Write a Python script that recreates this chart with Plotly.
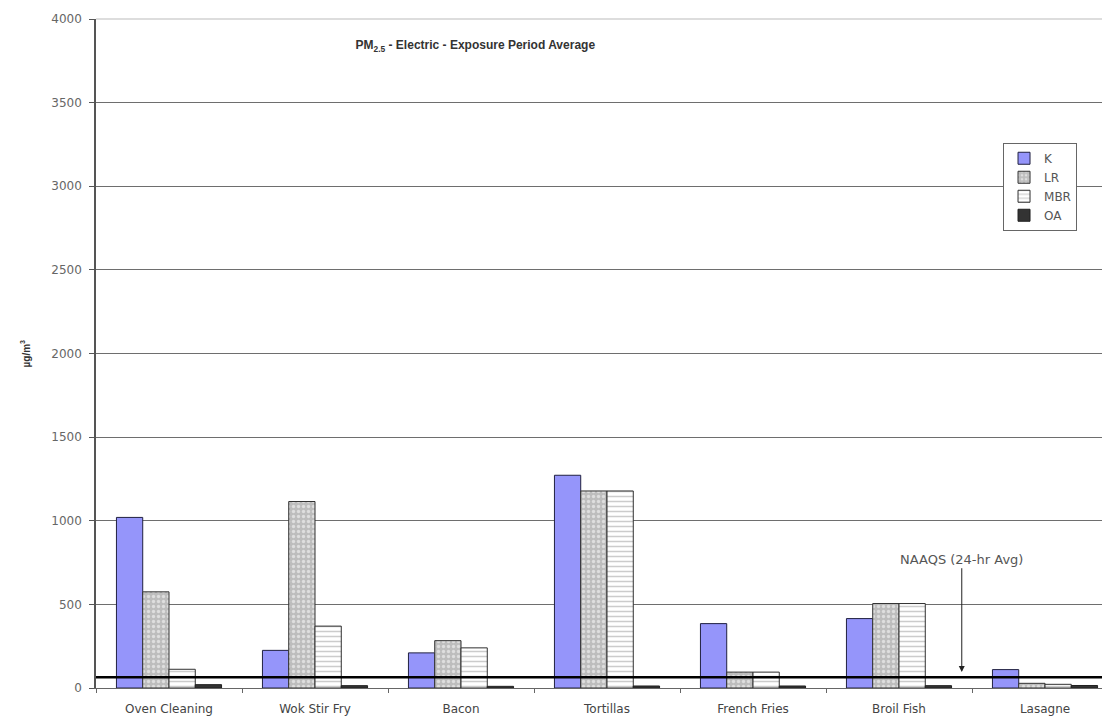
import plotly.graph_objects as go

# PM2.5 exposure period averages (ug/m3)
categories = ["Oven Cleaning", "Wok Stir Fry", "Bacon", "Tortillas",
              "French Fries", "Broil Fish", "Lasagne"]
k_values = [1020, 225, 210, 1272, 385, 415, 110]
lr_values = [575, 1115, 283, 1178, 95, 505, 28]
mbr_values = [112, 370, 240, 1178, 95, 505, 22]
oa_values = [20, 14, 10, 12, 12, 14, 15]
naaqs_value = 65
y_ticks = [0, 500, 1000, 1500, 2000, 2500, 3000, 3500, 4000]

FONT = "Arial, Liberation Sans, sans-serif"
WIDE = "DejaVu Sans, Verdana, sans-serif"

fig = go.Figure()

fig.add_trace(go.Bar(
    name="K", x=categories, y=k_values,
    marker=dict(color="#9595FA", line=dict(color="#202040", width=1))
))
fig.add_trace(go.Bar(
    name="LR", x=categories, y=lr_values,
    marker=dict(color="#C0C0C0", line=dict(color="#303030", width=1),
                pattern=dict(shape=".", fgcolor="white", bgcolor="#BDBDBD",
                             size=5, solidity=0.35))
))
fig.add_trace(go.Bar(
    name="MBR", x=categories, y=mbr_values,
    marker=dict(color="white", line=dict(color="#303030", width=1),
                pattern=dict(shape="-", fgcolor="#9A9A9A", bgcolor="white",
                             size=5, solidity=0.3))
))
fig.add_trace(go.Bar(
    name="OA", x=categories, y=oa_values,
    marker=dict(color="#333333", line=dict(color="#202020", width=1))
))

# NAAQS reference line
fig.add_shape(type="line", xref="paper", yref="y", x0=0, x1=1,
              y0=naaqs_value, y1=naaqs_value,
              line=dict(color="black", width=2.5))

fig.add_annotation(
    x=5.43, y=naaqs_value + 30, ax=5.43, ay=770,
    xref="x", yref="y", axref="x", ayref="y",
    text="NAAQS (24-hr Avg)", showarrow=True,
    arrowhead=2, arrowsize=1.2, arrowwidth=1, arrowcolor="#222222",
    font=dict(family=WIDE, size=13, color="#555555")
)

# y axis title placed by hand
fig.add_annotation(
    x=-0.0695, y=0.5, xref="paper", yref="paper", xanchor="center",
    text="<b>µg/m<sup>3</sup></b>", textangle=-90, showarrow=False,
    font=dict(family=FONT, size=10, color="#333333")
)

# page body adds 8px offset, margins compensate for it
fig.update_layout(
    width=1110, height=723,
    margin=dict(l=88, r=0, t=11, b=43, autoexpand=False),
    paper_bgcolor="white", plot_bgcolor="white",
    barmode="group", bargap=0.28, bargroupgap=0,
    title=dict(text="<b>PM<sub>2.5</sub> - Electric - Exposure Period Average</b>",
               x=0.421, xanchor="center", y=0.949, yanchor="middle",
               font=dict(family=FONT, size=12, color="#333333")),
    font=dict(family=WIDE, size=12, color="#555555"),
    legend=dict(x=0.8875, y=0.815, xanchor="left", yanchor="top",
                bgcolor="white", bordercolor="#666666", borderwidth=1,
                font=dict(family=WIDE, size=12, color="#555555"),
                itemwidth=30, tracegroupgap=0),
    xaxis=dict(range=[-0.5, 6.5], showgrid=False, automargin=False,
               showline=True, linecolor="#666666", linewidth=1,
               ticks="outside", tickson="boundaries", ticklen=4,
               tickcolor="#666666", ticklabelstandoff=10,
               tickfont=dict(family=WIDE, size=12, color="#444444")),
    yaxis=dict(range=[0, 4000], tickvals=y_ticks, automargin=False,
               showgrid=True, gridcolor="#6E6E6E", gridwidth=1,
               showline=True, linecolor="#555555", linewidth=1.5,
               ticks="outside", ticklen=5, tickcolor="#555555",
               ticklabelstandoff=5,
               tickfont=dict(family=WIDE, size=12, color="#666666")),
)

# upper plot border
fig.add_shape(type="line", xref="paper", yref="paper", x0=0, x1=1, y0=1, y1=1,
              line=dict(color="#BBBBBB", width=1))

fig.write_html("out.html")
